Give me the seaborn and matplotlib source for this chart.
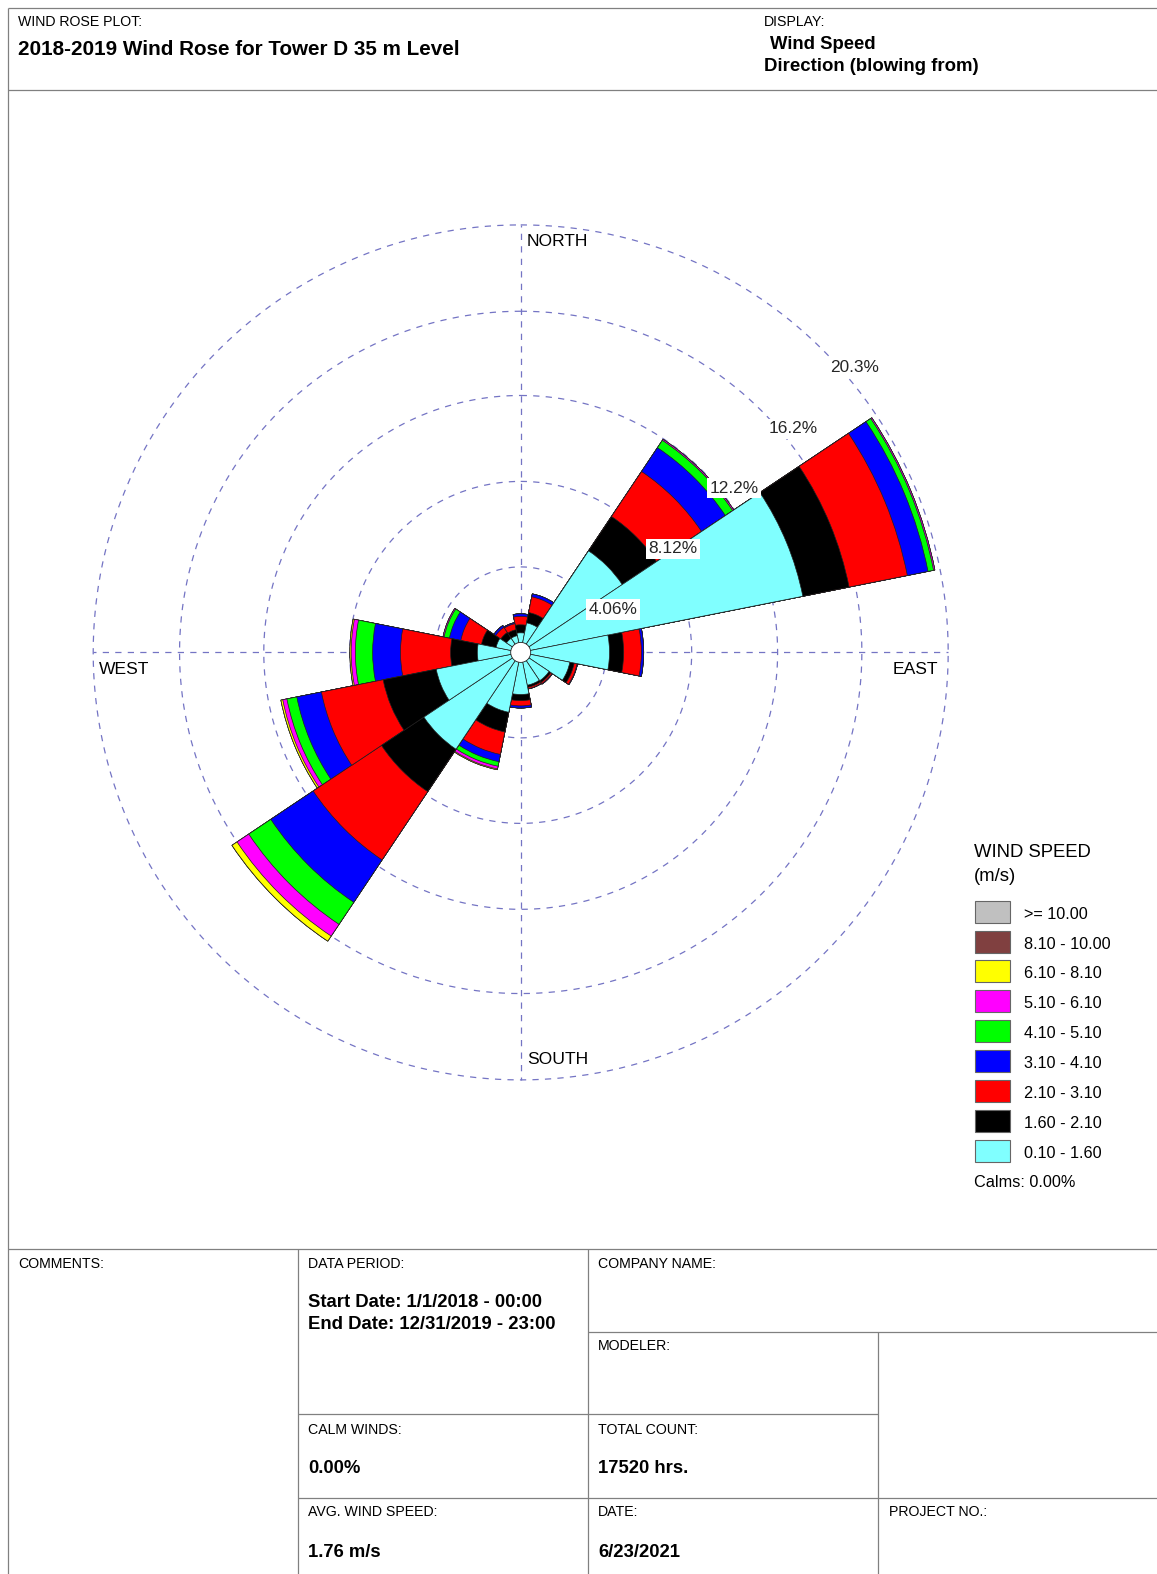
import numpy as np
import pandas as pd
import matplotlib
matplotlib.use("Agg")
import matplotlib.pyplot as plt
from matplotlib.patches import Rectangle, Circle
import seaborn as sns

# ---------------------------------------------------------------- data
directions = ["N", "NNE", "NE", "ENE", "E", "ESE", "SE", "SSE",
              "S", "SSW", "SW", "WSW", "W", "WNW", "NW", "NNW"]

speed_bins = ["0.10 - 1.60", "1.60 - 2.10", "2.10 - 3.10", "3.10 - 4.10",
              "4.10 - 5.10", "5.10 - 6.10", "6.10 - 8.10", "8.10 - 10.00",
              ">= 10.00"]
bin_colors = ["#80ffff", "#000000", "#ff0000", "#0000ff", "#00ff00",
              "#ff00ff", "#ffff00", "#804040", "#c0c0c0"]

# frequency (%) of each speed class per direction (blowing from)
freq_0p10_1p60 = [0.93, 1.43, 5.80, 13.66, 4.22, 2.38, 1.62, 1.59,
                  2.00, 2.90, 5.53, 4.09, 2.06, 1.19, 0.81, 0.81]
freq_1p60_2p10 = [0.38, 0.50, 1.96, 2.24, 0.67, 0.21, 0.10, 0.10,
                  0.29, 0.95, 2.42, 2.57, 1.27, 0.71, 0.33, 0.29]
freq_2p10_3p10 = [0.40, 0.76, 2.57, 2.82, 0.84, 0.14, 0.07, 0.07,
                  0.25, 1.09, 3.90, 2.99, 2.38, 1.00, 0.29, 0.29]
freq_3p10_4p10 = [0.12, 0.14, 1.36, 1.00, 0.11, 0.02, 0.02, 0.01,
                  0.10, 0.35, 2.42, 1.19, 1.32, 0.55, 0.10, 0.05]
freq_4p10_5p10 = [0.00, 0.00, 0.42, 0.27, 0.00, 0.00, 0.00, 0.00,
                  0.00, 0.22, 1.26, 0.48, 0.82, 0.26, 0.00, 0.00]
freq_5p10_6p10 = [0.00, 0.00, 0.06, 0.06, 0.00, 0.00, 0.00, 0.00,
                  0.00, 0.13, 0.67, 0.20, 0.20, 0.05, 0.00, 0.00]
freq_6p10_8p10 = [0.00, 0.00, 0.00, 0.00, 0.00, 0.00, 0.00, 0.00,
                  0.00, 0.04, 0.29, 0.09, 0.06, 0.00, 0.00, 0.00]
freq_8p10_10p0 = [0.0] * 16
freq_ge_10p0 = [0.0] * 16

ring_values = [4.06, 8.12, 12.2, 16.2, 20.3]
ring_labels = ["4.06%", "8.12%", "12.2%", "16.2%", "20.3%"]
cardinal_labels = ["NORTH", "EAST", "SOUTH", "WEST"]

calms_pct = 0.00
total_count = 17520
avg_speed = 1.76

freq_table = [freq_0p10_1p60, freq_1p60_2p10, freq_2p10_3p10, freq_3p10_4p10,
              freq_4p10_5p10, freq_5p10_6p10, freq_6p10_8p10, freq_8p10_10p0,
              freq_ge_10p0]

# ---------------------------------------------------------------- style
sns.set_style("white")
plt.rcParams["font.family"] = ["Liberation Sans", "DejaVu Sans"]

W, H = 1157, 1574
fig = plt.figure(figsize=(W / 100, H / 100), dpi=100)
fig.patch.set_facecolor("white")

# page layer in pixel coordinates (y downwards)
page = fig.add_axes([0, 0, 1, 1], zorder=0)
page.set_xlim(0, W)
page.set_ylim(H, 0)
page.axis("off")

frame_kw = dict(color="#808080", lw=0.9, solid_capstyle="butt")
page.plot([8, W], [8, 8], **frame_kw)
page.plot([8, 8], [8, H], **frame_kw)
page.plot([8, W], [89.5, 89.5], **frame_kw)
page.plot([8, W], [1249, 1249], **frame_kw)
page.plot([297.5, 297.5], [1249, H], **frame_kw)
page.plot([588, 588], [1249, H], **frame_kw)
page.plot([878, 878], [1331.5, H], **frame_kw)
page.plot([588, W], [1331.5, 1331.5], **frame_kw)
page.plot([297.5, 878], [1414, 1414], **frame_kw)
page.plot([297.5, W], [1497.5, 1497.5], **frame_kw)


def put(x, y, s, size, bold=False, **kw):
    page.text(x, y + 2.5, s, fontsize=size,
              fontweight="bold" if bold else "normal",
              ha="left", va="center", color="black", **kw)


small, big = 10.2, 13.3
put(18, 20, "WIND ROSE PLOT:", small)
put(18, 47, "2018-2019 Wind Rose for Tower D 35 m Level", 14.9, bold=True)
put(764, 20, "DISPLAY:", small)
put(770, 42, "Wind Speed", big, bold=True)
put(764, 64, "Direction (blowing from)", 13.4, bold=True)

put(18, 1261, "COMMENTS:", small)
put(308, 1261, "DATA PERIOD:", small)
put(598, 1261, "COMPANY NAME:", small)
put(308, 1300, "Start Date: 1/1/2018 - 00:00", big, bold=True)
put(308, 1322, "End Date: 12/31/2019 - 23:00", big, bold=True)
put(598, 1344, "MODELER:", small)
put(308, 1427, "CALM WINDS:", small)
put(598, 1427, "TOTAL COUNT:", small)
put(308, 1466, f"{calms_pct:.2f}%", big, bold=True)
put(598, 1466, f"{total_count} hrs.", big, bold=True)
put(308, 1510, "AVG. WIND SPEED:", small)
put(598, 1510, "DATE:", small)
put(889, 1510, "PROJECT NO.:", small)
put(308, 1550, f"{avg_speed:.2f} m/s", big, bold=True)
put(598, 1550, "6/23/2021", big, bold=True)

# legend
put(974, 850, "WIND SPEED", 13.3)
put(974, 874, "(m/s)", 13.3)
for i, (lab, col) in enumerate(zip(speed_bins[::-1], bin_colors[::-1])):
    yc = 911.7 + i * 29.85
    page.add_patch(Rectangle((974.5, yc - 11), 35, 22, facecolor=col,
                             edgecolor="#666666", lw=0.8))
    put(1024.5, yc, lab, 11.7)
put(974, 1180, f"Calms: {calms_pct:.2f}%", 11.7)

# ---------------------------------------------------------------- rose
cx, cy, R = 520.7, 652.4, 427.5
ax = fig.add_axes([(cx - R) / W, (H - cy - R) / H, 2 * R / W, 2 * R / H],
                  projection="polar", zorder=1)
ax.set_theta_zero_location("N")
ax.set_theta_direction(-1)
ax.patch.set_alpha(0)

theta = np.deg2rad(np.arange(len(directions)) * 360.0 / len(directions))
cum = np.cumsum(np.array(freq_table), axis=0)

rows = []
for k, lab in enumerate(speed_bins):
    for d, name in enumerate(directions):
        rows.append({"direction": name, "theta": theta[d], "speed": lab,
                     "cum": cum[k, d]})
df = pd.DataFrame(rows)

# stacked wedges: outermost class first, inner classes drawn over it
for k in range(len(speed_bins) - 1, -1, -1):
    sub = df[df["speed"] == speed_bins[k]]
    if sub["cum"].max() <= 0:
        continue
    sns.barplot(data=sub, x="theta", y="cum", native_scale=True, orient="x",
                color=bin_colors[k], saturation=1, width=1.0, errorbar=None,
                edgecolor="#202020", linewidth=0.5, ax=ax, zorder=3)

ax.set_xlabel("")
ax.set_ylabel("")
ax.set_xticks([])
ax.set_yticks([])
ax.grid(False)
ax.spines["polar"].set_visible(False)
ax.set_ylim(0, ring_values[-1])

grid_kw = dict(color="#7474c4", lw=0.9, ls=(0, (5, 5)), zorder=1,
               clip_on=False)
tt = np.linspace(0, 2 * np.pi, 721)
for rv in ring_values:
    ax.plot(tt, np.full_like(tt, rv), **grid_kw)
for a in np.deg2rad([0, 90, 180, 270]):
    ax.plot([a, a], [0, ring_values[-1]], **grid_kw)

# calm circle in the middle
ax.add_patch(Circle((0.5, 0.5), 10 / (2 * R), transform=ax.transAxes,
                    facecolor="white", edgecolor="#202020", lw=0.6, zorder=6))

for rv, lab in zip(ring_values, ring_labels):
    ax.annotate(lab, xy=(np.deg2rad(45), rv), xytext=(7, -10),
                textcoords="offset pixels", ha="left", va="top", fontsize=12.4,
                zorder=8,
                bbox=dict(boxstyle="square,pad=0.15", fc="white", ec="none"))

put(527, 238.5, cardinal_labels[0], 12.6)
put(527, 1056.5, cardinal_labels[2], 12.6)
put(99, 667.5, cardinal_labels[3], 12.6)
put(893, 667.5, cardinal_labels[1], 12.6)

fig.savefig("out.png", dpi=100, facecolor="white")
